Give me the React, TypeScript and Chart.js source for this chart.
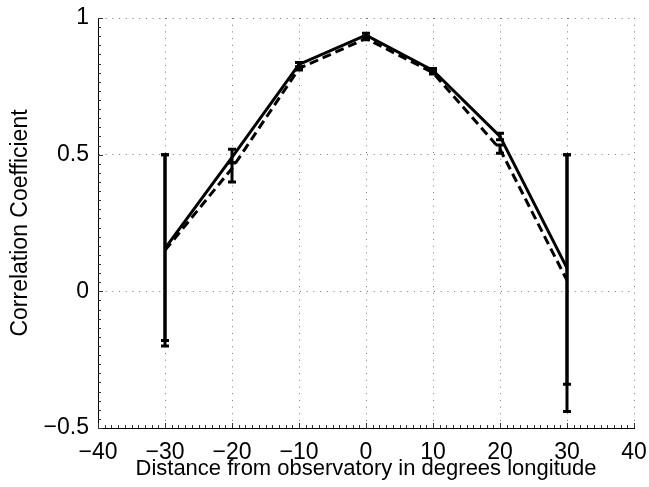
import React, { useEffect, useRef } from "react";
import { Chart, registerables } from "chart.js";

Chart.register(...registerables);

const longitudes = [-30, -20, -10, 0, 10, 20, 30];
const solidMean = [0.157, 0.49, 0.83, 0.937, 0.808, 0.567, 0.085];
const solidLow = [-0.18, 0.47, 0.822, 0.93, 0.8, 0.555, -0.34];
const solidHigh = [0.5, 0.52, 0.837, 0.944, 0.815, 0.578, 0.5];
const dashedMean = [0.15, 0.45, 0.815, 0.925, 0.8, 0.52, 0.04];
const dashedLow = [-0.2, 0.4, 0.81, 0.92, 0.795, 0.505, -0.44];
const dashedHigh = [0.5, 0.47, 0.82, 0.932, 0.805, 0.535, 0.5];
const xTicks = [-40, -30, -20, -10, 0, 10, 20, 30, 40];
const yTicks = [-0.5, 0, 0.5, 1];

const FONT = "'Liberation Sans', Arial, Helvetica, sans-serif";

const fmt = (v: number) => {
  const s = String(v);
  return v < 0 ? "\u2212" + s.slice(1) : s;
};

const errorBarPlugin = {
  id: "errorBars",
  afterDatasetsDraw(chart: any) {
    const { ctx, scales } = chart;
    const xs = scales.x;
    const ys = scales.y;
    const sets = [
      { lo: solidLow, hi: solidHigh },
      { lo: dashedLow, hi: dashedHigh },
    ];
    ctx.save();
    ctx.strokeStyle = "#000";
    ctx.lineWidth = 3;
    ctx.setLineDash([]);
    sets.forEach((s) => {
      longitudes.forEach((lon, i) => {
        const x = xs.getPixelForValue(lon);
        const y1 = ys.getPixelForValue(s.lo[i]);
        const y2 = ys.getPixelForValue(s.hi[i]);
        ctx.beginPath();
        ctx.moveTo(x, y1);
        ctx.lineTo(x, y2);
        ctx.moveTo(x - 4, y1);
        ctx.lineTo(x + 4, y1);
        ctx.moveTo(x - 4, y2);
        ctx.lineTo(x + 4, y2);
        ctx.stroke();
      });
    });
    ctx.restore();
  },
};

const minorTickPlugin = {
  id: "minorTicks",
  afterDraw(chart: any) {
    const { ctx, scales, chartArea } = chart;
    const xs = scales.x;
    const ys = scales.y;
    ctx.save();
    ctx.strokeStyle = "#333";
    ctx.lineWidth = 1;
    ctx.beginPath();
    for (let v = -40; v <= 40; v += 1) {
      const x = Math.round(xs.getPixelForValue(v)) + 0.5;
      const len = v % 10 === 0 ? 5 : 3;
      ctx.moveTo(x, chartArea.bottom);
      ctx.lineTo(x, chartArea.bottom - len);
    }
    for (let k = 0; k <= 45; k++) {
      const v = -0.5 + k / 30;
      const y = Math.round(ys.getPixelForValue(v)) + 0.5;
      const len = k % 15 === 0 ? 5 : 3;
      ctx.moveTo(chartArea.left, y);
      ctx.lineTo(chartArea.left + len, y);
    }
    ctx.stroke();
    ctx.restore();
  },
};

export default function App() {
  const ref = useRef<HTMLCanvasElement | null>(null);
  useEffect(() => {
    document.body.style.margin = "0";
    const canvas = ref.current;
    if (!canvas) return;
    const chart = new Chart(canvas, {
      type: "line",
      data: {
        datasets: [
          {
            data: longitudes.map((x, i) => ({ x, y: solidMean[i] })),
            borderColor: "#000",
            borderWidth: 3,
            pointRadius: 0,
            fill: false,
            tension: 0,
          },
          {
            data: longitudes.map((x, i) => ({ x, y: dashedMean[i] })),
            borderColor: "#000",
            borderWidth: 3,
            borderDash: [9, 5],
            pointRadius: 0,
            fill: false,
            tension: 0,
          },
        ],
      },
      options: {
        responsive: false,
        animation: false,
        devicePixelRatio: 1,
        layout: { padding: { top: 18, right: 15, left: 0, bottom: 0 } },
        plugins: { legend: { display: false }, tooltip: { enabled: false } },
        scales: {
          x: {
            type: "linear",
            min: -40,
            max: 40,
            afterBuildTicks: (s: any) => {
              s.ticks = xTicks.map((v) => ({ value: v }));
            },
            afterFit: (s: any) => {
              s.height = 59;
              s.paddingLeft = 0;
              s.paddingRight = 0;
            },
            ticks: {
              callback: (v: any) => fmt(Number(v)),
              color: "#000",
              font: { family: FONT, size: 23 },
              padding: 11,
              maxRotation: 0,
              autoSkip: false,
            },
            grid: {
              color: "#777",
              lineWidth: 1,
              drawTicks: false,
            },
            border: { display: true, color: "#000", width: 1, dash: [1, 5.7] },
            title: {
              display: true,
              text: "Distance from observatory in degrees longitude",
              color: "#000",
              font: { family: FONT, size: 22 },
              padding: { top: 0, bottom: 5 },
            },
          },
          y: {
            type: "linear",
            min: -0.5,
            max: 1,
            afterBuildTicks: (s: any) => {
              s.ticks = yTicks.map((v) => ({ value: v }));
            },
            afterFit: (s: any) => {
              s.width = 98;
              s.paddingTop = 0;
              s.paddingBottom = 0;
            },
            ticks: {
              callback: (v: any) => fmt(Number(v)),
              color: "#000",
              font: { family: FONT, size: 23 },
              padding: 9,
              autoSkip: false,
            },
            grid: {
              color: "#777",
              lineWidth: 1,
              drawTicks: false,
            },
            border: { display: true, color: "#000", width: 1, dash: [1, 5.7] },
            title: {
              display: true,
              text: "Correlation Coefficient",
              color: "#000",
              font: { family: FONT, size: 23 },
              padding: { top: 7, bottom: 0 },
            },
          },
        },
      },
      plugins: [errorBarPlugin, minorTickPlugin],
    } as any);
    return () => chart.destroy();
  }, []);
  return (
    <div style={{ width: 649, height: 487, background: "#fff" }}>
      <canvas ref={ref} width={649} height={487} style={{ display: "block" }} />
    </div>
  );
}
